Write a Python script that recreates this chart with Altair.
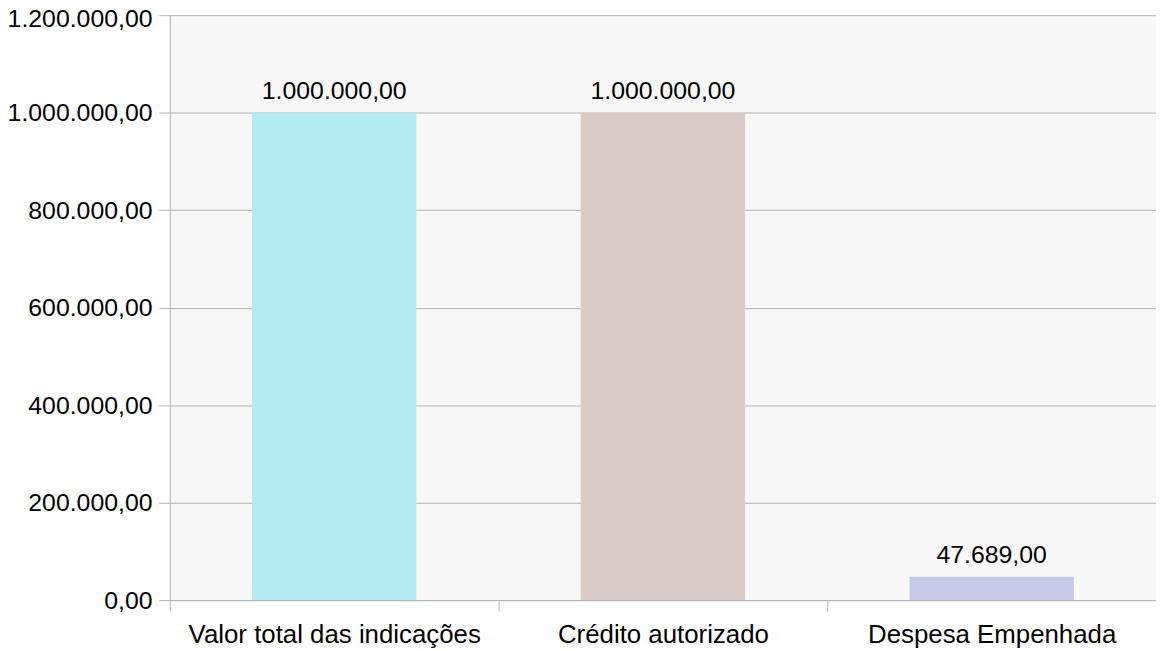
import altair as alt
import pandas as pd

categories = ["Valor total das indicações", "Crédito autorizado", "Despesa Empenhada"]
values = [1000000.00, 1000000.00, 47689.00]
colors = ["#b2ebf2", "#d7ccc8", "#c5cae9"]
y_ticks = [0, 200000, 400000, 600000, 800000, 1000000, 1200000]

df = pd.DataFrame({"categoria": categories, "valor": values})

FONT = "Liberation Sans"
FS_NUM = 25
FS_CAT = 26

x_enc = alt.X(
    "categoria:N",
    sort=categories,
    scale=alt.Scale(paddingInner=0, paddingOuter=0),
    axis=alt.Axis(
        title=None,
        labelAngle=0,
        labelFontSize=FS_CAT,
        labelFont=FONT,
        labelColor="#000000",
        labelPadding=11,
        labelLimit=0,
        tickBand="extent",
        tickSize=11,
        tickColor="#b3b3b3",
        domainColor="#b3b3b3",
        grid=False,
    ),
)

y_enc = alt.Y(
    "valor:Q",
    scale=alt.Scale(domain=[0, 1200000], nice=False),
    axis=alt.Axis(
        title=None,
        values=y_ticks,
        format=",.2f",
        labelFontSize=FS_NUM,
        labelFont=FONT,
        labelColor="#000000",
        labelPadding=7,
        labelLimit=0,
        labelOffset={"condition": {"test": "datum.value == 1200000", "value": 3}, "value": 0},
        tickSize=11,
        tickColor="#b3b3b3",
        domainColor="#b3b3b3",
        gridColor="#b3b3b3",
        grid=True,
    ),
)

bars = alt.Chart(df).mark_bar(width=alt.RelativeBandSize(0.5)).encode(
    x=x_enc,
    y=y_enc,
    color=alt.Color("categoria:N", sort=categories,
                    scale=alt.Scale(domain=categories, range=colors), legend=None),
)

labels = alt.Chart(df).mark_text(
    baseline="alphabetic", dy=-14, fontSize=FS_NUM, font=FONT, color="#000000"
).encode(
    x=alt.X("categoria:N", sort=categories),
    y=alt.Y("valor:Q"),
    text=alt.Text("valor:Q", format=",.2f"),
)

chart = (
    alt.layer(bars, labels)
    .properties(
        width=993,
        height=589,
        autosize=alt.AutoSizeParams(type="none"),
        padding={"left": 163, "top": 5, "right": 0, "bottom": 49},
        background="#ffffff",
    )
    .configure(
        locale={"number": {"decimal": ",", "thousands": ".", "grouping": [3], "currency": ["", ""]}}
    )
    .configure_view(fill="#f8f8f8", stroke=None)
)

chart.save("out.html", embed_options={"renderer": "svg", "actions": False})
